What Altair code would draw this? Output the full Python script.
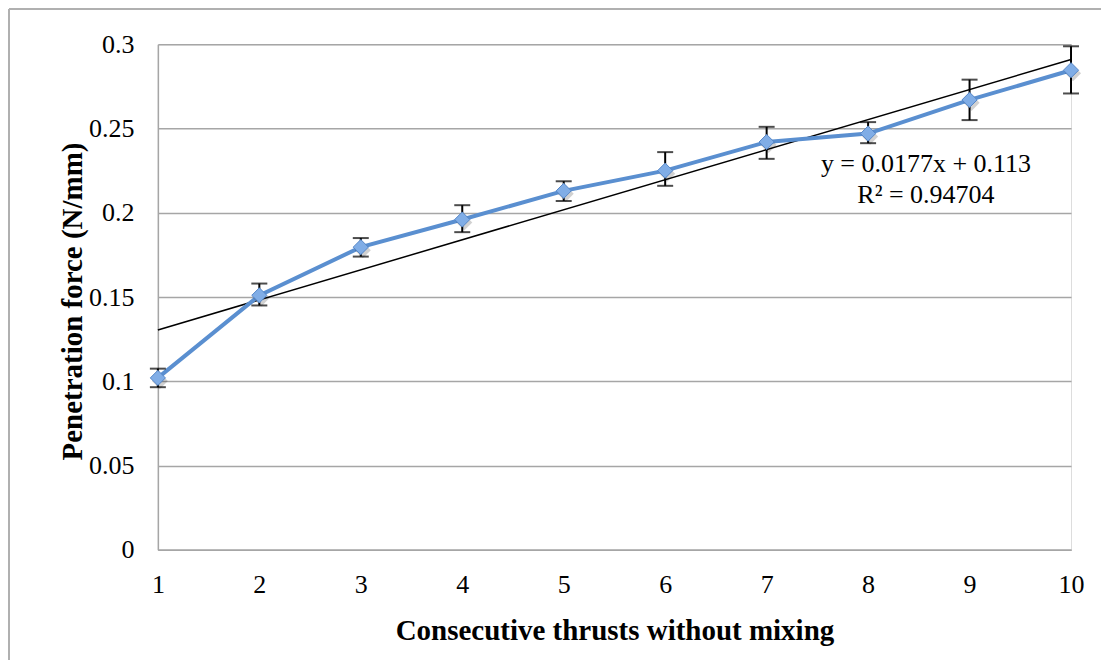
import altair as alt
import pandas as pd

# Data
thrusts = [1, 2, 3, 4, 5, 6, 7, 8, 9, 10]
force = [0.102, 0.151, 0.1796, 0.196, 0.213, 0.225, 0.242, 0.247, 0.267, 0.2846]
err_low = [0.0965, 0.145, 0.174, 0.1885, 0.207, 0.216, 0.232, 0.2413, 0.255, 0.2708]
err_high = [0.1075, 0.158, 0.185, 0.2045, 0.2187, 0.236, 0.251, 0.2538, 0.279, 0.2988]
y_ticks = [0, 0.05, 0.1, 0.15, 0.2, 0.25, 0.3]
x_ticks = [1, 2, 3, 4, 5, 6, 7, 8, 9, 10]
eq_text = ["y = 0.0177x + 0.113", "R² = 0.94704"]
eq_x = [8.57, 8.57]
eq_y = [0.2242, 0.2058]

FONT = "Liberation Serif"
BLUE = "#5A8FD0"

df = pd.DataFrame({"x": thrusts, "y": force, "lo": err_low, "hi": err_high})
ann = pd.DataFrame({"t": eq_text, "x": eq_x, "y": eq_y})

W, H = 914, 506
xs = alt.Scale(domain=[1, 10], nice=False, zero=False)
ys = alt.Scale(domain=[0, 0.3], nice=False)

x_axis = alt.Axis(
    values=x_ticks, format="d", labelFlush=False, grid=False, ticks=False, labelPadding=22,
    domainColor="#a6a6a6", domainWidth=1.5, labelFont=FONT, labelFontSize=26,
    labelColor="black",
    title="Consecutive thrusts without mixing", titleFont=FONT, titleFontSize=29,
    titleFontWeight="bold", titleColor="black", titleBaseline="alphabetic", titleY=90,
)
y_axis = alt.Axis(
    values=y_ticks, format=".2~f", labelFlush=False, grid=True, gridColor="#a6a6a6",
    gridWidth=1.5, ticks=False, labelPadding=24, domainColor="#a6a6a6", domainWidth=1.5,
    labelFont=FONT, labelFontSize=26, labelColor="black",
    title="Penetration force (N/mm)", titleFont=FONT, titleFontSize=29,
    titleFontWeight="bold", titleColor="black", titleBaseline="alphabetic",
    titleX=-76, titleY=257,
)

base = alt.Chart(df)

frame_top = base.mark_rule(color="#b0b0b0", strokeWidth=1.5).encode(
    x=alt.value(-149), x2=alt.value(W + 30), y=alt.value(-35)
)
frame_left = base.mark_rule(color="#b0b0b0", strokeWidth=1.5).encode(
    x=alt.value(-149), y=alt.value(-35), y2=alt.value(H + 110)
)

trend = base.transform_regression("x", "y", extent=[1, 10]).mark_line(
    color="black", strokeWidth=1.5
).encode(x=alt.X("x:Q", scale=xs, axis=x_axis), y=alt.Y("y:Q", scale=ys, axis=y_axis))

line = base.mark_line(color=BLUE, strokeWidth=4).encode(
    x=alt.X("x:Q", scale=xs), y=alt.Y("y:Q", scale=ys)
)

err_rule = base.mark_rule(color="black", strokeWidth=2).encode(
    x=alt.X("x:Q", scale=xs), y=alt.Y("lo:Q", scale=ys), y2="hi:Q"
)
cap_hi = base.mark_tick(color="black", orient="horizontal", size=16, thickness=2).encode(
    x=alt.X("x:Q", scale=xs), y=alt.Y("hi:Q", scale=ys)
)
cap_lo = base.mark_tick(color="black", orient="horizontal", size=16, thickness=2).encode(
    x=alt.X("x:Q", scale=xs), y=alt.Y("lo:Q", scale=ys)
)

shadow = base.mark_point(
    shape="diamond", filled=True, size=260, color="#000000", opacity=0.18, xOffset=2, yOffset=3
).encode(x=alt.X("x:Q", scale=xs), y=alt.Y("y:Q", scale=ys))

points = base.mark_point(
    shape="diamond", filled=True, size=230, fill="#80ADE6", stroke="#5587C8",
    strokeWidth=1, opacity=1
).encode(x=alt.X("x:Q", scale=xs), y=alt.Y("y:Q", scale=ys))

text = alt.Chart(ann).mark_text(
    font=FONT, fontSize=26, color="black", align="center", baseline="alphabetic"
).encode(x=alt.X("x:Q", scale=xs), y=alt.Y("y:Q", scale=ys), text="t:N")

chart = alt.layer(
    frame_top, frame_left, trend, line, err_rule, cap_hi, cap_lo, shadow, points, text
).properties(
    width=W, height=H,
    autosize=alt.AutoSizeParams(type="none"),
    padding={"left": 150, "top": 36, "right": 30, "bottom": 110},
).configure_view(stroke=None).configure(background="white")

chart.save("out.html", embed_options={"renderer": "svg", "actions": False})
